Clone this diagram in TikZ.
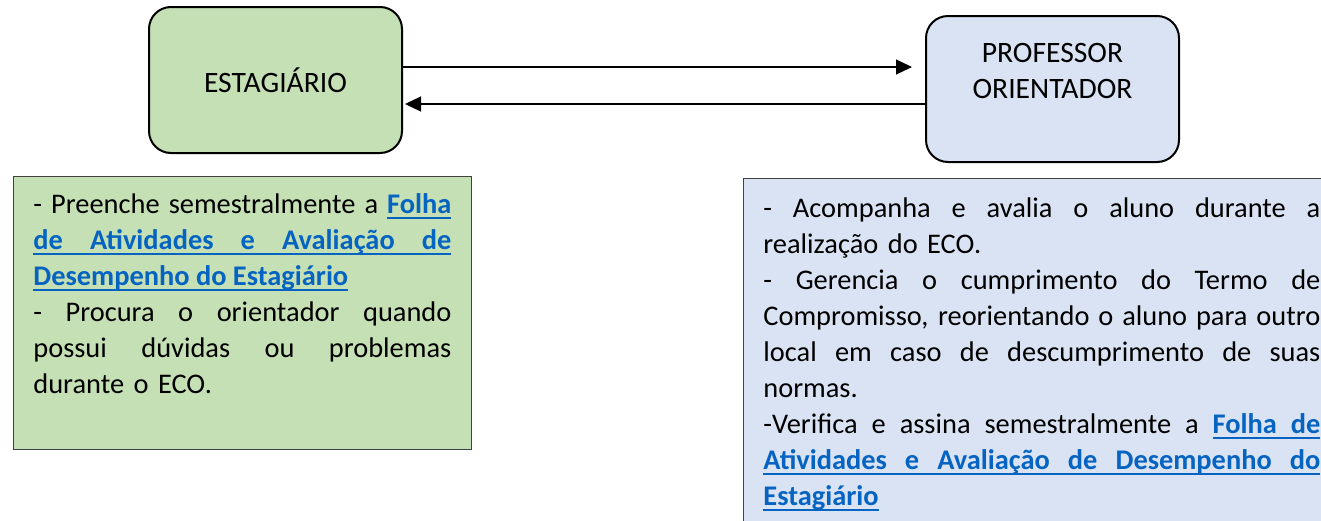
\documentclass[tikz,border=0pt]{standalone}
\usepackage{fontspec}
\setmainfont{Carlito}
\usepackage{xcolor}
\usetikzlibrary{positioning,arrows.meta}
\definecolor{estaggreen}{HTML}{C5E0B4}
\definecolor{profblue}{HTML}{DAE3F3}
\definecolor{linkblue}{HTML}{0563C1}
\setlength{\parindent}{0pt}
% underlined word and underlined stretchable space
\newcommand{\ulw}[1]{\setbox0\hbox{#1}\rlap{\rule[-2.6pt]{\wd0}{1pt}}\box0}
\newcommand{\uls}{\leaders\hrule height -1.6pt depth 2.6pt\hskip\fontdimen2\font plus 10\fontdimen2\font minus\fontdimen4\font}
\def\ulrun#1 #2\ulend{\ulw{#1}\ifx\relax#2\relax\else\uls\ulrun#2\ulend\fi}
\newcommand{\folha}[1]{\textcolor{linkblue}{\bfseries\ulrun#1 \ulend}}
% one justified line
\newcommand{\jline}[1]{{\spaceskip=\fontdimen2\font plus 10\fontdimen2\font minus\fontdimen4\font
  \xspaceskip=\spaceskip\makebox[\hsize][s]{#1}}}
\tikzset{
  actor/.style={rectangle, rounded corners=11pt, draw, line width=1pt,
    minimum width=126.5pt, minimum height=73pt, align=center,
    font=\fontsize{14.8}{18}\selectfont},
  notebox/.style={rectangle, draw=black!75, line width=0.6pt, anchor=north west},
  notetext/.style={anchor=north west, inner sep=0pt,
    font=\fontsize{14.2}{18}\selectfont},
  flow/.style={-{Triangle[length=8pt,width=7.5pt]}, line width=0.6pt}
}
\begin{document}
\begin{tikzpicture}[x=0.5pt,y=-0.5pt]
  \clip (0,0) rectangle (1321,520);
  % the two actors
  \node[actor, fill=estaggreen] (estag) at (275.5,80) {ESTAGIÁRIO};
  \node[actor, fill=profblue] (prof) at (1052.5,89) {PROFESSOR\\ORIENTADOR\\\mbox{}};
  \draw[flow, shorten >=6.5pt] (estag.east |- 0,67) -- (prof.west |- 0,67);
  \draw[flow, shorten >=1pt] (prof.west |- 0,104) -- (estag.east |- 0,104);
  % duties of the student
  \node[notebox, fill=estaggreen, minimum width=229pt, minimum height=136.5pt] (estagbox) at (13,176) {};
  \node[notetext, text width=209pt] (estagtxt) at ([xshift=10pt,yshift=-5.9pt]estagbox.north west) {%
    \strut\jline{- Preenche semestralmente a \folha{Folha}}\\
    \jline{\folha{de Atividades e Avaliação de}}\\
    \folha{Desempenho do Estagiário}\\
    \jline{- Procura o orientador quando}\\
    \jline{possui dúvidas ou problemas}\\
    durante o ECO.};
  % duties of the advisor
  \node[notebox, fill=profblue, minimum width=300pt, minimum height=200pt] (profbox) at (743,178) {};
  \node[notetext, text width=278.5pt] (proftxt) at ([xshift=10pt,yshift=-6.9pt]profbox.north west) {%
    \strut\jline{- Acompanha e avalia o aluno durante a}\\
    realização do ECO.\\
    \jline{- Gerencia o cumprimento do Termo de}\\
    \jline{Compromisso, reorientando o aluno para outro}\\
    \jline{local em caso de descumprimento de suas}\\
    normas.\\
    \jline{-Verifica e assina semestralmente a \folha{Folha de}}\\
    \jline{\folha{Atividades e Avaliação de Desempenho do}}\\
    \folha{Estagiário}};
\end{tikzpicture}
\end{document}
